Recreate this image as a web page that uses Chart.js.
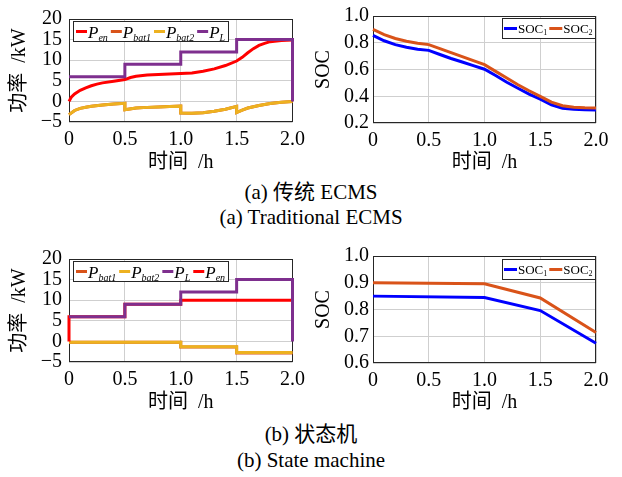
<!DOCTYPE html>
<html><head><meta charset="utf-8">
<script src="https://cdn.jsdelivr.net/npm/chart.js@4.4.1/dist/chart.umd.min.js"></script>
<style>
body{margin:0;background:#fff;width:622px;height:477px;position:relative;overflow:hidden}
canvas{position:absolute}
.cap{position:absolute;left:0;width:622px;text-align:center;font-family:"Liberation Serif","Noto Sans CJK SC",serif;font-size:21px;line-height:24px;color:#000;white-space:nowrap}
</style></head><body>
<canvas id="c1" width="311" height="180" style="left:0;top:0"></canvas>
<canvas id="c2" width="311" height="180" style="left:311px;top:0"></canvas>
<canvas id="c3" width="311" height="180" style="left:0;top:240px"></canvas>
<canvas id="c4" width="311" height="180" style="left:311px;top:240px"></canvas>
<div class="cap" style="top:180px">(a) 传统 ECMS</div>
<div class="cap" style="top:205px">(a) Traditional ECMS</div>
<div class="cap" style="top:422px">(b) 状态机</div>
<div class="cap" style="top:448px">(b) State machine</div>
<script>
// ---------- data ----------
const xTicks = [0, 0.5, 1.0, 1.5, 2.0];
const xTickLabels = ['0', '0.5', '1.0', '1.5', '2.0'];
const powerTicks = [-5, 0, 5, 10, 15, 20];
const powerTickLabels = ['\u22125', '0', '5', '10', '15', '20'];
const socTicksA = [0.2, 0.4, 0.6, 0.8, 1.0];
const socTickLabelsA = ['0.2', '0.4', '0.6', '0.8', '1.0'];
const socTicksB = [0.6, 0.7, 0.8, 0.9, 1.0];
const socTickLabelsB = ['0.6', '0.7', '0.8', '0.9', '1.0'];

// (a) ECMS power
const ecmsEnTime = [0, 0.02, 0.05, 0.1, 0.15, 0.2, 0.25, 0.3, 0.4, 0.5, 0.55, 0.6, 0.7, 0.8, 0.9, 1.0, 1.1, 1.2, 1.3, 1.4, 1.5, 1.55, 1.6, 1.65, 1.7, 1.75, 1.8, 1.9, 2.0];
const ecmsPen   = [0, 1.0, 1.8, 2.7, 3.3, 3.8, 4.2, 4.5, 4.9, 5.3, 5.8, 6.1, 6.4, 6.55, 6.65, 6.75, 6.9, 7.3, 7.9, 8.7, 9.8, 10.7, 11.8, 12.8, 13.6, 14.1, 14.5, 14.8, 14.9];
const ecmsBatTime = [0, 0.05, 0.1, 0.15, 0.2, 0.3, 0.4, 0.5, 0.5, 0.6, 0.7, 0.8, 0.9, 1.0, 1.0, 1.1, 1.2, 1.3, 1.4, 1.5, 1.5, 1.55, 1.6, 1.7, 1.8, 1.9, 2.0];
const ecmsPbat1 = [-3.2, -2.2, -1.7, -1.4, -1.2, -0.9, -0.65, -0.45, -2.0, -1.6, -1.45, -1.35, -1.25, -1.15, -2.8, -2.9, -2.75, -2.4, -1.9, -1.2, -2.7, -2.1, -1.6, -1.0, -0.5, -0.2, -0.05];
const ecmsPbat2 = [-3.2, -2.2, -1.7, -1.4, -1.2, -0.9, -0.65, -0.45, -2.0, -1.6, -1.45, -1.35, -1.25, -1.15, -2.8, -2.9, -2.75, -2.4, -1.9, -1.2, -2.7, -2.1, -1.6, -1.0, -0.5, -0.2, -0.05];
const loadTime = [0, 0.5, 0.5, 1.0, 1.0, 1.5, 1.5, 2.0, 2.0];
const loadPL   = [6, 6, 9, 9, 12, 12, 15, 15, 0];

// (a) ECMS SOC
const ecmsSocTime = [0, 0.1, 0.2, 0.3, 0.4, 0.5, 0.6, 0.7, 0.8, 0.9, 1.0, 1.1, 1.2, 1.3, 1.4, 1.5, 1.6, 1.7, 1.8, 1.9, 2.0];
const ecmsSoc1 = [0.855, 0.815, 0.786, 0.766, 0.752, 0.743, 0.712, 0.682, 0.656, 0.629, 0.602, 0.555, 0.505, 0.46, 0.416, 0.378, 0.336, 0.311, 0.302, 0.299, 0.298];
const ecmsSoc2 = [0.9, 0.861, 0.832, 0.811, 0.796, 0.786, 0.756, 0.726, 0.696, 0.666, 0.636, 0.586, 0.536, 0.486, 0.441, 0.399, 0.356, 0.329, 0.318, 0.314, 0.313];

// (b) state machine power
const smEnTime = [0, 0, 0.5, 0.5, 1.0, 1.0, 2.0];
const smPen    = [0, 6, 6, 9, 9, 10, 10];
const smBatTime = [0, 1.0, 1.0, 1.5, 1.5, 2.0];
const smPbat1 = [-0.2, -0.2, -1.35, -1.35, -2.8, -2.8];
const smPbat2 = [-0.2, -0.2, -1.3, -1.3, -2.7, -2.7];

// (b) state machine SOC
const smSocTime = [0, 1.0, 1.5, 2.0];
const smSoc1 = [0.85, 0.845, 0.796, 0.674];
const smSoc2 = [0.90, 0.896, 0.843, 0.714];

// ---------- helpers ----------
const C = { en: '#ff0000', bat1: '#d95319', bat2: '#edb120', L: '#7e2f8e', soc1: '#0000ff', soc2: '#d95319' };
const pts = (xs, ys) => xs.map((x, i) => ({ x, y: ys[i] }));
const FAM = '"Liberation Serif", "Noto Sans CJK SC", serif';
const gridColor = '#cfcfcf';

const frameAndLegend = {
  id: 'frameAndLegend',
  beforeDatasetsDraw(chart) {
    const ctx = chart.ctx, a = chart.chartArea;
    ctx.save();
    ctx.strokeStyle = '#262626'; ctx.lineWidth = 1;
    ctx.strokeRect(Math.round(a.left) + 0.5, Math.round(a.top) + 0.5, Math.round(a.right - a.left) - 1, Math.round(a.bottom - a.top) - 1);
    ctx.restore();
  },
  afterDatasetsDraw(chart, args, o) {
    const ctx = chart.ctx, a = chart.chartArea;
    ctx.save();
    const items = chart.data.datasets.map(ds => {
      const parts = ds.label.split('_');
      return { main: parts[0], sub: parts[1] || '', color: ds.borderColor };
    });
    const widths = items.map(it => {
      ctx.font = o.mainFont; const mw = ctx.measureText(it.main).width;
      ctx.font = o.subFont; const sw = it.sub ? ctx.measureText(it.sub).width : 0;
      return o.lineLen + o.gap + mw + sw + o.itemGap;
    });
    const total = Math.round(widths.reduce((s, w) => s + w, 0) + o.padL);
    const x0 = Math.round(o.align === 'left' ? a.left + o.dx : a.right - o.dx - total);
    const y0 = Math.round(a.top + o.dy);
    ctx.fillStyle = '#fff'; ctx.fillRect(x0, y0, total, o.height);
    ctx.strokeStyle = '#262626'; ctx.lineWidth = 1;
    ctx.strokeRect(x0 + 0.5, y0 + 0.5, total, o.height);
    let x = x0 + o.padL; const cy = y0 + o.height / 2 + 0.5;
    items.forEach((it, i) => {
      ctx.strokeStyle = it.color; ctx.lineWidth = o.lineWidth;
      ctx.beginPath(); ctx.moveTo(x, cy); ctx.lineTo(x + o.lineLen, cy); ctx.stroke();
      let tx = x + o.lineLen + o.gap;
      ctx.fillStyle = '#000'; ctx.textAlign = 'left'; ctx.textBaseline = 'alphabetic';
      ctx.font = o.mainFont; ctx.fillText(it.main, tx, cy + o.baseOff);
      tx += ctx.measureText(it.main).width;
      if (it.sub) { ctx.font = o.subFont; ctx.fillText(it.sub, tx, cy + o.baseOff + o.subOff); }
      x += widths[i];
    });
    ctx.restore();
  }
};

function makeChart(id, datasets, cfg) {
  return new Chart(document.getElementById(id), {
    type: 'line',
    data: { datasets },
    plugins: [frameAndLegend],
    options: {
      responsive: false, animation: false, devicePixelRatio: 1,
      layout: { padding: { left: 0, top: 15, right: cfg.padR, bottom: 0 } },
      elements: { point: { radius: 0 }, line: { borderWidth: 3, tension: 0, borderCapStyle: 'butt', borderJoinStyle: 'miter' } },
      plugins: { legend: { display: false }, tooltip: { enabled: false }, frameAndLegend: cfg.legend },
      scales: {
        x: {
          type: 'linear', min: 0, max: 2,
          afterBuildTicks: s => { s.ticks = xTicks.map(v => ({ value: v })); },
          afterFit: s => { s.height = cfg.xH; },
          ticks: { callback: (v, i) => xTickLabels[i], font: { family: FAM, size: 20 }, color: '#000', padding: 6, maxRotation: 0, autoSkip: false },
          grid: { color: gridColor, drawTicks: false, lineWidth: 1 },
          border: { display: false },
          title: { display: true, text: '时间\u2002/h', font: { family: FAM, size: 20 }, color: '#000', padding: { top: 0, bottom: 5 } }
        },
        y: {
          type: 'linear', min: cfg.yMin, max: cfg.yMax,
          afterBuildTicks: s => { s.ticks = cfg.yTicks.map(v => ({ value: v })); },
          afterFit: s => { s.width = cfg.yW; },
          ticks: { callback: (v, i) => cfg.yLabels[i], font: { family: FAM, size: 20 }, color: '#000', padding: cfg.yPad, autoSkip: false },
          grid: { color: gridColor, drawTicks: false, lineWidth: 1 },
          border: { display: false },
          title: { display: true, text: cfg.yTitle, font: { family: FAM, size: 20 }, color: '#000', padding: { top: cfg.yTitlePad, bottom: 0 } }
        }
      }
    }
  });
}

const legP = { align: 'left', dx: 4, dy: 2, height: 20, padL: 3, lineLen: 11, gap: 1, itemGap: 3, lineWidth: 3,
  mainFont: 'italic 17px "Liberation Serif", serif', subFont: 'italic 10px "Liberation Serif", serif', baseOff: 6, subOff: 3 };
const legS = { align: 'right', dx: 1, dy: 2, height: 20, padL: 2, lineLen: 13, gap: 1, itemGap: 2, lineWidth: 3,
  mainFont: '13px "Liberation Serif", serif', subFont: '8px "Liberation Serif", serif', baseOff: 4.5, subOff: 2 };

const ds = (label, xs, ys, color, order) => ({ label, data: pts(xs, ys), borderColor: color, backgroundColor: color, order, clip: 5, fill: false });

makeChart('c1', [
  ds('P_en', ecmsEnTime, ecmsPen, C.en, 3),
  ds('P_bat1', ecmsBatTime, ecmsPbat1, C.bat1, 2),
  ds('P_bat2', ecmsBatTime, ecmsPbat2, C.bat2, 1),
  ds('P_L', loadTime, loadPL, C.L, 0)
], { padR: 15, xH: 58, yW: 69, yPad: 7, yTitlePad: 8, yMin: -5, yMax: 20, yTicks: powerTicks, yLabels: powerTickLabels, yTitle: '功率\u2002/kW', legend: legP });

makeChart('c2', [
  ds('SOC_1', ecmsSocTime, ecmsSoc1, C.soc1, 1),
  ds('SOC_2', ecmsSocTime, ecmsSoc2, C.soc2, 0)
], { padR: 26, xH: 57, yW: 62, yPad: 4, yTitlePad: 1, yMin: 0.2, yMax: 1.0, yTicks: socTicksA, yLabels: socTickLabelsA, yTitle: 'SOC', legend: legS });

makeChart('c3', [
  ds('P_bat1', smBatTime, smPbat1, C.bat1, 3),
  ds('P_bat2', smBatTime, smPbat2, C.bat2, 2),
  ds('P_L', loadTime, loadPL, C.L, 0),
  ds('P_en', smEnTime, smPen, C.en, 1)
], { padR: 15, xH: 58, yW: 69, yPad: 7, yTitlePad: 8, yMin: -5, yMax: 20, yTicks: powerTicks, yLabels: powerTickLabels, yTitle: '功率\u2002/kW', legend: legP });

makeChart('c4', [
  ds('SOC_1', smSocTime, smSoc1, C.soc1, 1),
  ds('SOC_2', smSocTime, smSoc2, C.soc2, 0)
], { padR: 26, xH: 57, yW: 62, yPad: 4, yTitlePad: 1, yMin: 0.6, yMax: 1.0, yTicks: socTicksB, yLabels: socTickLabelsB, yTitle: 'SOC', legend: Object.assign({}, legS, { dy: 3 }) });
</script>
</body></html>
